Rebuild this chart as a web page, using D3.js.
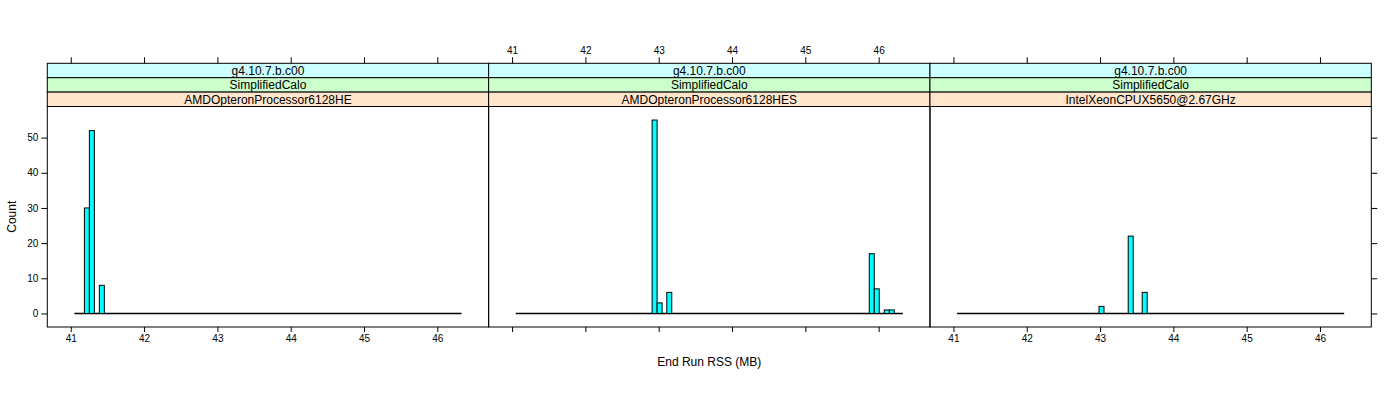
<!DOCTYPE html>
<html>
<head>
<meta charset="utf-8">
<script src="https://cdn.jsdelivr.net/npm/d3@7"></script>
<style>
  html, body { margin: 0; padding: 0; background: #fff; }
  svg text { font-family: "Liberation Sans", Arial, sans-serif; }
</style>
</head>
<body>
<svg id="chart" width="1400" height="400"></svg>
<script>
// ---- data ----
const panelNames = ["AMDOpteronProcessor6128HE", "AMDOpteronProcessor6128HES", "IntelXeonCPUX5650@2.67GHz"];
const stripTop = "g4.10.7.b.c00";
const stripMid = "SimplifiedCalo";
const binWidth = 0.068;
const breakRange = [41.05, 46.33];
const binStarts1 = [41.186, 41.254, 41.39];
const counts1 = [30, 52, 8];
const binStarts2 = [42.91, 42.978, 43.11, 45.872, 45.94, 46.077, 46.145];
const counts2 = [55, 3, 6, 17, 7, 1, 1];
const binStarts3 = [42.986, 43.384, 43.575];
const counts3 = [2, 22, 6];
const xTicks = [41, 42, 43, 44, 45, 46];
const yTicks = [0, 10, 20, 30, 40, 50];
const xLabel = "End Run RSS (MB)";
const yLabel = "Count";

const panelStarts = [binStarts1, binStarts2, binStarts3];
const panelCounts = [counts1, counts2, counts3];

// ---- layout ----
const svg = d3.select("#chart");
svg.append("rect").attr("width", 1400).attr("height", 400).attr("fill", "#fff");

const left = 47.3, right = 1371.3;
const panelW = (right - left) / 3;
const stripH = 14.4;
const stripTopY = 63.3;
const panelTop = stripTopY + 3 * stripH;
const panelBottom = 327;

const y = d3.scaleLinear().domain([-3.85, 58.85]).range([panelBottom, panelTop]);
const stripColors = ["#ccffff", "#ccffcc", "#ffe5cc"];

panelNames.forEach((name, i) => {
  const x0 = left + i * panelW, x1 = x0 + panelW;
  const x = d3.scaleLinear().domain([40.68, 46.70]).range([x0, x1]);
  const g = svg.append("g");

  // strips
  [stripTop, stripMid, name].forEach((label, j) => {
    const sy = stripTopY + j * stripH;
    g.append("rect").attr("x", x0).attr("y", sy).attr("width", panelW).attr("height", stripH)
      .attr("fill", stripColors[j]).attr("stroke", "#000").attr("stroke-width", 1);
    g.append("text").attr("x", (x0 + x1) / 2).attr("y", sy + stripH / 2 + 4.2)
      .attr("text-anchor", "middle").attr("font-size", 12).attr("fill", "#000").text(label);
  });

  // zero-height bins line
  g.append("line").attr("x1", x(breakRange[0])).attr("x2", x(breakRange[1]))
    .attr("y1", y(0)).attr("y2", y(0)).attr("stroke", "#000").attr("stroke-width", 1.6);

  // bars
  const starts = panelStarts[i], counts = panelCounts[i];
  g.selectAll("rect.bar").data(starts.map((s, k) => ({ s, c: counts[k] }))).enter()
    .append("rect").attr("class", "bar")
    .attr("x", d => x(d.s)).attr("width", d => x(d.s + binWidth) - x(d.s))
    .attr("y", d => y(d.c)).attr("height", d => y(0) - y(d.c))
    .attr("fill", "#00ffff").attr("stroke", "#000").attr("stroke-width", 1);

  // panel border
  g.append("rect").attr("x", x0).attr("y", panelTop).attr("width", panelW)
    .attr("height", panelBottom - panelTop).attr("fill", "none").attr("stroke", "#000").attr("stroke-width", 1);

  // x axes: bottom labelled for panels 0 and 2, top labelled for panel 1
  const bottom = d3.axisBottom(x).tickValues(xTicks).tickSize(5).tickPadding(3)
    .tickFormat(i === 1 ? "" : d3.format("d"));
  const ga = g.append("g").attr("transform", `translate(0,${panelBottom})`).call(bottom);
  const top = d3.axisTop(x).tickValues(xTicks).tickSize(6).tickPadding(3)
    .tickFormat(i === 1 ? d3.format("d") : "");
  const gt = g.append("g").attr("transform", `translate(0,${stripTopY})`).call(top);
  [ga, gt].forEach(a => {
    a.select(".domain").remove();
    a.selectAll("line").attr("stroke", "#000");
    a.selectAll("text").attr("font-size", 10).attr("fill", "#000").style("font-family", "Liberation Sans, Arial, sans-serif");
  });

  if (i === 0) {
    const ay = d3.axisLeft(y).tickValues(yTicks).tickSize(6).tickPadding(3);
    const gy = g.append("g").attr("transform", `translate(${x0},0)`).call(ay);
    gy.select(".domain").remove();
    gy.selectAll("line").attr("stroke", "#000");
    gy.selectAll("text").attr("font-size", 10).attr("fill", "#000").style("font-family", "Liberation Sans, Arial, sans-serif");
  }
  if (i === 2) {
    const ay = d3.axisRight(y).tickValues(yTicks).tickSize(6).tickFormat("");
    const gy = g.append("g").attr("transform", `translate(${x1},0)`).call(ay);
    gy.select(".domain").remove();
    gy.selectAll("line").attr("stroke", "#000");
  }
});

// axis titles
svg.append("text").attr("x", (left + right) / 2).attr("y", 366).attr("text-anchor", "middle")
  .attr("font-size", 12).attr("fill", "#000").text(xLabel);
svg.append("text").attr("transform", `translate(16,${(panelTop + panelBottom) / 2}) rotate(-90)`)
  .attr("text-anchor", "middle").attr("font-size", 12).attr("fill", "#000").text(yLabel);
</script>
</body>
</html>
